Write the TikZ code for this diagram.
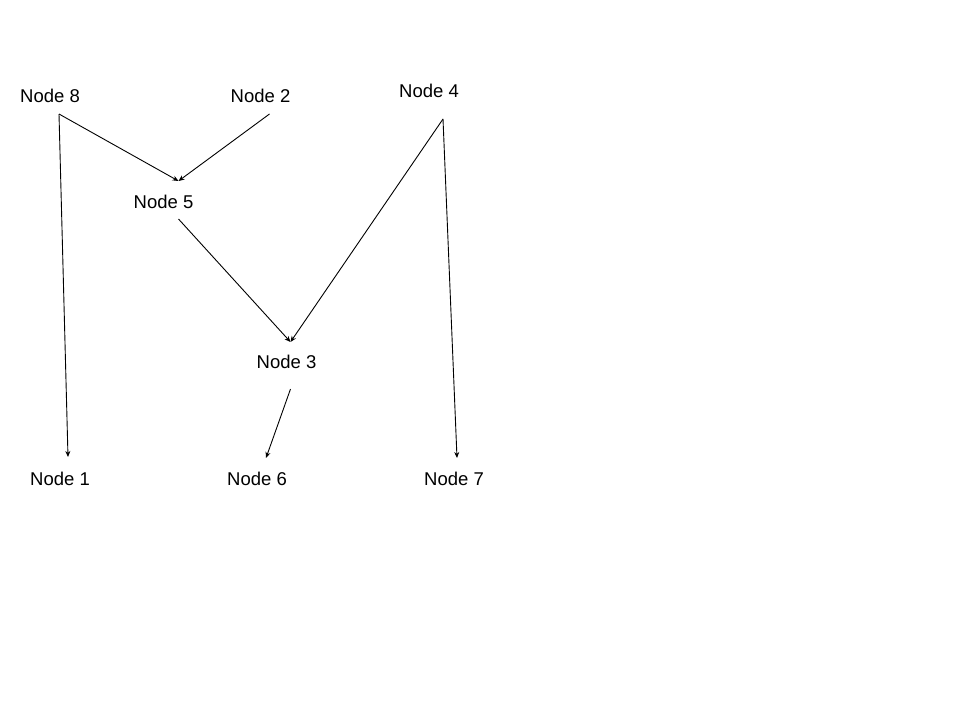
\documentclass[tikz,border=0pt]{standalone}
\usepackage{fontspec}
\setmainfont{Liberation Sans}
\usetikzlibrary{arrows.meta}
\tikzset{
  lbl/.style={inner sep=0pt, font=\fontsize{18.5}{22}\selectfont},
  edge/.style={line width=0.9pt, -{Stealth[length=6pt,width=5pt]}}
}

\begin{document}
\begin{tikzpicture}[x=1pt,y=-1pt]
\useasboundingbox[fill=white] (0,0) rectangle (960,720);
% nodes
\node[lbl] (n8) at (50,96) {Node 8};
\node[lbl] (n2) at (260.5,96) {Node 2};
\node[lbl] (n4) at (429,91) {Node 4};
\node[lbl] (n5) at (163.5,202) {Node 5};
\node[lbl] (n3) at (286.5,362) {Node 3};
\node[lbl] (n1) at (60,479) {Node 1};
\node[lbl] (n6) at (257,479) {Node 6};
\node[lbl] (n7) at (454,479) {Node 7};
% edges
\draw[edge] ([shift={(9,18)}]n8.center) -- ([shift={(15,-21)}]n5.center);
\draw[edge] ([shift={(9,18)}]n2.center) -- ([shift={(15,-21)}]n5.center);
\draw[edge] ([shift={(9,18)}]n8.center) -- ([shift={(8,-22)}]n1.center);
\draw[edge] ([shift={(15,17)}]n5.center) -- ([shift={(4,-20)}]n3.center);
\draw[edge] ([shift={(14,28)}]n4.center) -- ([shift={(4,-20)}]n3.center);
\draw[edge] ([shift={(14,28)}]n4.center) -- ([shift={(3,-21)}]n7.center);
\draw[edge] ([shift={(4,27)}]n3.center) -- ([shift={(9,-21)}]n6.center);
\end{tikzpicture}
\end{document}
